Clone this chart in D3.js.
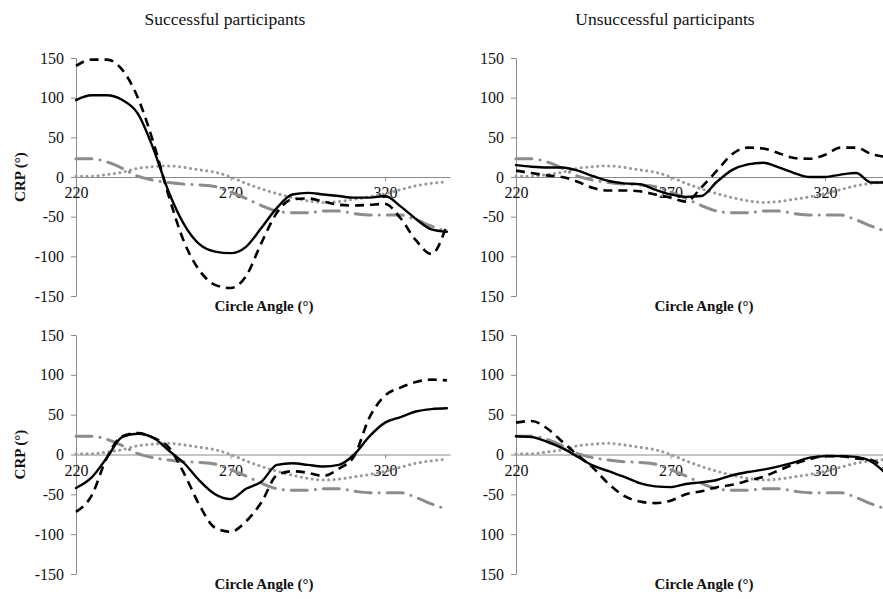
<!DOCTYPE html>
<html>
<head>
<meta charset="utf-8">
<script src="https://cdn.jsdelivr.net/npm/d3@7"></script>
<style>
  body { margin: 0; background: #fff; }
  svg { display: block; }
  .axis path, .axis line { stroke: #8a8a8a; stroke-width: 1; }
</style>
</head>
<body>
<svg id="chart" width="883" height="599"></svg>
<script>
// Circle angle samples (deg)
const ANGLES = [220, 225, 230, 235, 240, 245, 250, 255, 260, 265, 270, 275, 280,
  285, 290, 295, 300, 305, 310, 315, 320, 325, 330, 335, 340];

// Reference curves (same in every panel)
const REF_DOTTED  = [1, 1, 3, 6, 11, 13, 14, 12, 9, 6, 0, -8, -15, -21, -26, -30, -32, -31, -28, -25, -21, -16, -11, -8, -6];
const REF_DASHDOT = [23, 23, 19, 11, 1, -4, -7, -9, -10, -12, -19, -27, -36, -43, -45, -45, -43, -43, -46, -48, -48, -48, -54, -62, -69];

// Successful participants
const SUCC_TOP_SOLID  = [97, 103, 103, 97, 80, 36, -19, -60, -85, -94, -96, -88, -64, -39, -22, -20, -22, -24, -26, -26, -24, -37, -53, -66, -69];
const SUCC_TOP_DASHED = [140, 148, 148, 135, 100, 44, -24, -82, -118, -136, -140, -125, -83, -45, -28, -27, -31, -35, -36, -35, -34, -52, -80, -97, -60];
const SUCC_BOT_SOLID  = [-42, -29, -4, 22, 26, 21, 5, -11, -33, -50, -56, -43, -34, -13, -11, -13, -15, -13, 0, 23, 40, 47, 54, 57, 58];
const SUCC_BOT_DASHED = [-72, -52, -4, 23, 27, 21, 9, -24, -64, -92, -97, -84, -60, -26, -21, -23, -27, -18, -2, 47, 74, 84, 91, 94, 93];

// Unsuccessful participants
const UNS_TOP_SOLID  = [15, 13, 12, 12, 8, 1, -5, -8, -9, -16, -22, -25, -24, -6, 9, 16, 18, 12, 5, 0, 0, 3, 5, -7, -7];
const UNS_TOP_DASHED = [8, 5, 2, 0, -6, -14, -17, -17, -18, -22, -26, -31, -13, 8, 29, 37, 36, 30, 24, 23, 28, 37, 37, 29, 25];
const UNS_BOT_SOLID  = [23, 22, 16, 8, -3, -14, -21, -28, -36, -40, -41, -37, -35, -32, -26, -22, -19, -15, -10, -4, -2, -2, -3, -9, -25];
const UNS_BOT_DASHED = [40, 42, 33, 16, -1, -17, -37, -52, -59, -61, -58, -50, -46, -41, -38, -33, -28, -20, -12, -6, -2, -2, -5, -7, -20];

const Y_TICKS = [-150, -100, -50, 0, 50, 100, 150];
const Y_LABELS_LEFT  = ["-150", "-100", "-50", "0", "50", "100", "150"];
const Y_LABELS_RIGHT = ["150", "100", "-50", "0", "50", "100", "150"]; // minus signs cut off in the source
const X_TICKS = [220, 270, 320];

const TITLES = ["Successful participants", "Unsuccessful participants"];

const svg = d3.select("#chart");
const SERIF = "'Liberation Serif', 'Times New Roman', serif";

const panels = [
  { col: 0, top: 58,  bottom: 296, solid: SUCC_TOP_SOLID, dashed: SUCC_TOP_DASHED },
  { col: 1, top: 58,  bottom: 296, solid: UNS_TOP_SOLID,  dashed: UNS_TOP_DASHED },
  { col: 0, top: 335, bottom: 574, solid: SUCC_BOT_SOLID, dashed: SUCC_BOT_DASHED },
  { col: 1, top: 335, bottom: 574, solid: UNS_BOT_SOLID,  dashed: UNS_BOT_DASHED },
];
const COL_X = [76, 516];
const PLOT_W = 374;

const styles = {
  dotted:  { stroke: "#999",    width: 3,   dash: "0.1 5.4", cap: "round" },
  dashdot: { stroke: "#8c8c8c", width: 3,   dash: "16 8 0.1 8", cap: "round" },
  dashed:  { stroke: "#000",    width: 2.6, dash: "9 6", cap: "butt" },
  solid:   { stroke: "#000",    width: 2.4, dash: null, cap: "round" },
};

panels.forEach(p => {
  const x0 = COL_X[p.col];
  const x = d3.scaleLinear([220, 341], [x0, x0 + PLOT_W]);
  const y = d3.scaleLinear([-150, 150], [p.bottom, p.top]);
  const g = svg.append("g");
  const labels = p.col === 0 ? Y_LABELS_LEFT : Y_LABELS_RIGHT;

  // y axis
  g.append("g").attr("class", "axis")
    .attr("transform", `translate(${x0},0)`)
    .call(d3.axisLeft(y).tickValues(Y_TICKS).tickSize(5).tickSizeOuter(0).tickPadding(7)
      .tickFormat((d, i) => labels[i]));

  // x axis on the zero line
  g.append("g").attr("class", "axis")
    .attr("transform", `translate(0,${y(0)})`)
    .call(d3.axisBottom(x).tickValues(X_TICKS).tickSize(4).tickSizeOuter(0).tickPadding(6)
      .tickFormat(d3.format("d")));

  g.selectAll(".axis").attr("font-family", SERIF).attr("font-size", 16);
  g.selectAll(".axis .tick text").attr("fill", "#111");

  const line = d3.line()
    .x((d, i) => x(ANGLES[i]))
    .y(d => y(d))
    .curve(d3.curveMonotoneX);

  const draw = (vals, st) => {
    g.append("path")
      .attr("d", line(vals))
      .attr("fill", "none")
      .attr("stroke", st.stroke)
      .attr("stroke-width", st.width)
      .attr("stroke-dasharray", st.dash)
      .attr("stroke-linecap", st.cap)
      .attr("stroke-linejoin", "round");
  };
  draw(REF_DOTTED, styles.dotted);
  draw(REF_DASHDOT, styles.dashdot);
  draw(p.dashed, styles.dashed);
  draw(p.solid, styles.solid);

  // axis titles
  g.append("text")
    .attr("x", x0 + 188).attr("y", p.bottom + 15)
    .attr("text-anchor", "middle")
    .attr("font-family", SERIF).attr("font-weight", 700).attr("font-size", 15)
    .attr("fill", "#111")
    .text("Circle Angle (°)");

  if (p.col === 0) {
    const cy = y(0);
    g.append("text")
      .attr("transform", `translate(25,${cy}) rotate(-90)`)
      .attr("text-anchor", "middle")
      .attr("font-family", SERIF).attr("font-weight", 700).attr("font-size", 15)
      .attr("fill", "#111")
      .text("CRP (°)");
  }
});

// column titles
TITLES.forEach((t, i) => {
  svg.append("text")
    .attr("x", [225, 665][i]).attr("y", 25)
    .attr("text-anchor", "middle")
    .attr("font-family", SERIF).attr("font-size", 17.5)
    .attr("fill", "#111")
    .text(t);
});
</script>
</body>
</html>
